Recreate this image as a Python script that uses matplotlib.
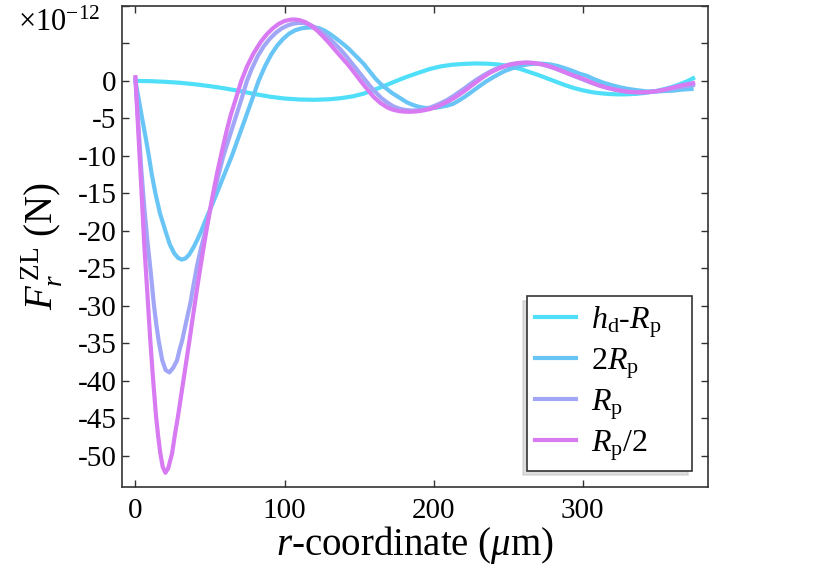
import numpy as np
import matplotlib
matplotlib.use('Agg')
from matplotlib import pyplot as plt

plt.rcParams['font.family'] = ['Liberation Serif', 'DejaVu Serif']
plt.rcParams['mathtext.fontset'] = 'custom'
plt.rcParams['mathtext.rm'] = 'Liberation Serif'
plt.rcParams['mathtext.it'] = 'Liberation Serif:italic'
plt.rcParams['mathtext.bf'] = 'Liberation Serif:bold'

# force values in units of 1e-12 N, r in micrometres
x_hd = [0, 10, 20, 30, 40, 50, 60, 70, 80, 90, 100, 110, 120, 130, 138, 146,
        153, 160, 167, 175, 182, 190, 197.6, 205, 212, 220, 228, 236, 244, 250,
        258, 264, 270, 276, 282, 288, 294, 300, 306, 312, 318, 324, 330, 336,
        342, 348, 354, 360, 365, 370, 374]
y_hd = [0, -0.03, -0.12, -0.25, -0.45, -0.7, -1.0, -1.35, -1.75, -2.1, -2.35,
        -2.48, -2.52, -2.45, -2.3, -2.05, -1.7, -1.2, -0.65, 0, 0.55, 1.1, 1.6,
        1.95, 2.15, 2.27, 2.33, 2.3, 2.18, 2.0, 1.6, 1.2, 0.8, 0.35, -0.1,
        -0.55, -0.95, -1.25, -1.5, -1.65, -1.75, -1.8, -1.78, -1.72, -1.6,
        -1.4, -1.12, -0.8, -0.45, -0.05, 0.35]

x_2rp = [0, 2, 4.5, 7, 9, 11, 13.4, 16.5, 20.1, 23, 26, 28.5, 31, 33.5, 36, 39,
         41.5, 44.2, 47, 50, 52.5, 55.8, 60, 64.7, 69, 73.7, 78, 82.6, 87, 91,
         95, 99, 103, 107, 111, 115, 119, 123, 127, 131, 135, 139.5, 143, 147,
         150, 153, 157, 161, 165, 168.6, 172, 176, 182, 186, 190, 194, 197.6,
         201, 205, 209, 213, 217, 221, 226.6, 230, 235, 240, 244, 248, 253, 258,
         263, 268, 273, 278, 283, 288, 293, 298, 302.5, 308, 314, 320, 325, 330,
         335, 342.7, 350, 355, 360.5, 366, 373]
y_2rp = [0, -2.2, -5, -7.7, -10, -12.5, -15, -17.7, -20, -21.8, -23, -23.6,
         -23.85, -23.7, -23.2, -22.2, -21.2, -20, -18.6, -17.2, -16.0, -14.4,
         -12.3, -10, -7.6, -5, -2.6, 0, 2.0, 3.5, 4.7, 5.6, 6.3, 6.75, 7.0, 7.12,
         7.15, 7.05, 6.7, 6.2, 5.6, 4.9, 4.3, 3.5, 2.9, 2.3, 1.3, 0.3, -0.5,
         -1.07, -1.6, -2.1, -2.85, -3.2, -3.45, -3.6, -3.62, -3.6, -3.45, -3.3,
         -3.07, -2.6, -2.1, -1.3, -0.8, -0.1, 0.5, 0.95, 1.35, 1.7, 2.0, 2.2,
         2.3, 2.3, 2.2, 2.0, 1.7, 1.35, 0.95, 0.7, 0.2, -0.25, -0.6, -0.85,
         -1.05, -1.2, -1.4, -1.4, -1.35, -1.3, -1.17, -1.07]

x_rp = [0, 2, 4, 6, 8, 10, 12.3, 14, 15.6, 18, 20.3, 22.8, 25.3, 27.9, 29.7,
        31.3, 34, 36.8, 39, 41.3, 44, 47, 50, 52.6, 55.8, 59, 63, 67, 71, 74.8,
        78, 82, 86, 90, 94, 98, 102, 106, 110, 113, 117, 121, 125, 129, 133,
        137, 141, 145, 149, 153, 157, 161, 165, 169, 173, 177, 181, 185, 189,
        193, 197, 201, 205, 209, 213, 217, 221, 225, 229, 233, 237, 241, 245,
        249, 253, 257, 261, 265, 269, 273, 277, 281, 285, 290, 295, 300, 305,
        311, 316, 322, 327, 332, 337, 342, 347, 352, 358, 364, 369, 374]
y_rp = [0.3, -6, -12, -17, -21.3, -25, -29.7, -32.5, -34.7, -37.3, -38.6, -38.9,
        -38.3, -37.3, -35.8, -34.7, -32.2, -29.7, -27.2, -24.7, -22.3, -20,
        -17.3, -15, -12.5, -10, -7.5, -5, -2.5, 0, 1.6, 3.3, 4.6, 5.6, 6.4, 7.0,
        7.4, 7.65, 7.75, 7.72, 7.5, 7.1, 6.55, 5.9, 5.1, 4.3, 3.4, 2.4, 1.4,
        0.4, -0.6, -1.5, -2.3, -2.9, -3.4, -3.7, -3.88, -3.95, -3.93, -3.82,
        -3.6, -3.3, -2.95, -2.55, -2.05, -1.5, -0.95, -0.35, 0.2, 0.7, 1.15,
        1.55, 1.85, 2.1, 2.28, 2.38, 2.43, 2.42, 2.33, 2.18, 1.95, 1.7, 1.4,
        1.0, 0.6, 0.2, -0.2, -0.6, -0.9, -1.15, -1.32, -1.45, -1.5, -1.5, -1.45,
        -1.32, -1.12, -0.9, -0.72, -0.55]

x_rp2 = [0, 2, 4, 6, 8, 10, 11.8, 13.8, 15.3, 16.7, 18.3, 20.1, 22, 24.6, 26.5,
         28.6, 30.5, 32.4, 34.3, 36.2, 38, 39.5, 41.2, 43, 46, 49, 52, 55, 58,
         61, 64, 67, 71, 75, 79, 84, 88, 92, 96, 100, 104, 107, 110, 114,
         118, 122, 126, 130.6, 134, 138, 142, 146, 151, 155, 159.6, 164, 168.6,
         172, 176, 180, 184, 188, 192, 197.6, 202, 206, 211, 215.5, 221, 226.6,
         232, 237.8, 244, 251, 257, 262, 267, 272, 277, 282, 287, 292, 297,
         302.5, 307, 311, 316, 320, 325, 330, 335, 340, 345, 350, 356, 361, 366,
         370, 374]
y_rp2 = [0.5, -7, -14.5, -22.1, -28.3, -34.7, -39.7, -44.7, -47.5, -49.7, -51.5,
         -52.3, -51.7, -49.7, -47.2, -44.7, -42.2, -39.7, -37.2, -34.7, -32.2,
         -30.2, -27.9, -25.6, -21.9, -18.4, -15.1, -12.1, -9.4, -6.8, -4.5,
         -2.6, 0, 2.0, 3.6, 5.2, 6.2, 7.0, 7.6, 8.0, 8.18, 8.2, 8.12, 7.85, 7.35,
         6.7, 5.9, 4.9, 4.1, 3.2, 2.3, 1.3, 0, -1.0, -2.1, -2.9, -3.5, -3.8,
         -4.0, -4.1, -4.12, -4.08, -3.98, -3.75, -3.45, -3.1, -2.6, -2.05, -1.3,
         -0.45, 0.35, 1.1, 1.7, 2.17, 2.38, 2.45, 2.4, 2.25, 2.0, 1.65, 1.25,
         0.85, 0.5, 0.1, -0.3, -0.6, -0.9, -1.1, -1.3, -1.45, -1.52, -1.53,
         -1.48, -1.35, -1.1, -0.85, -0.6, -0.45, -0.3]

labels = [r'$h_{\mathrm{d}}$-$R_{\mathrm{p}}$', r'$2R_{\mathrm{p}}$',
          r'$R_{\mathrm{p}}$', r'$R_{\mathrm{p}}/2$']
colors = ['#4fdff8', '#68c5f5', '#a2a6f7', '#d87af2']

yticks = [10, 5, 0, -5, -10, -15, -20, -25, -30, -35, -40, -45, -50]
yticklabels = ['', ''] + ['%d' % t if t == 0 else '-%d' % -t for t in yticks[2:]]
xticks = [0, 100, 200, 300]

fig = plt.figure(figsize=(8.3, 5.68), dpi=100)
ax = fig.add_axes([122/830, 1 - 487/568, (708 - 122)/830, (487 - 6)/568])

for xs, ys, lab, c in zip([x_hd, x_2rp, x_rp, x_rp2], [y_hd, y_2rp, y_rp, y_rp2],
                          labels, colors):
    ax.plot(xs, ys, color=c, lw=3, label=lab, solid_joinstyle='round')

ax.set_xlim(-9, 384)
ax.set_ylim(-54.2, 9.9)
ax.set_xticks(xticks)
ax.set_xticklabels([str(t) for t in xticks])
ax.set_yticks(yticks)
ax.set_yticklabels(yticklabels)
ax.tick_params(direction='in', top=True, right=True, length=5, width=1,
               color='#333333', labelsize=21)
ax.tick_params(axis='x', pad=8)
ax.tick_params(axis='y', pad=4)
for s in ax.spines.values():
    s.set_color('#333333')
    s.set_linewidth(1.2)

ax.set_xlabel(r'$r$-coordinate ($\mu$m)', fontsize=28, labelpad=0)
ax.set_ylabel(r'$F_r^{\,\mathrm{ZL}}$ (N)', fontsize=28, labelpad=10)
fig.text(100/830, 1 - 31/568, r'$\times\mathrm{10^{-12}}$', fontsize=22,
         ha='right', va='baseline')

leg = ax.legend(loc='lower right', fontsize=23, fancybox=False,
                bbox_to_anchor=(0.691, 0.0333, 0.2817, 0.5), mode='expand',
                shadow={'ox': -3, 'oy': -3, 'shade': 0.25},
                handlelength=1.3, handletextpad=0.45, labelspacing=0.2,
                borderpad=0.25, borderaxespad=0, framealpha=1)
leg.get_frame().set_edgecolor('#333333')
leg.get_frame().set_linewidth(1.2)

fig.savefig('out.png', dpi=100)
